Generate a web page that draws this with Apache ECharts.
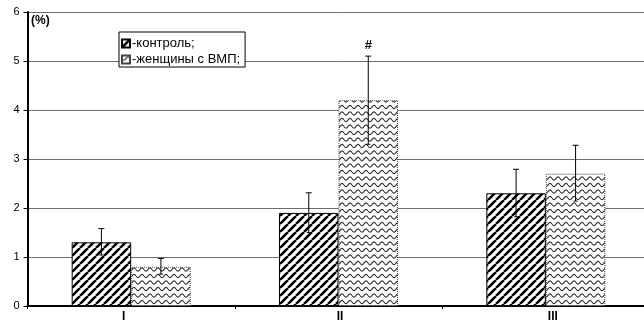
<!DOCTYPE html>
<html><head><meta charset="utf-8">
<script src="https://cdn.jsdelivr.net/npm/echarts@6/dist/echarts.min.js"></script>
<style>html,body{margin:0;padding:0;background:#fff;overflow:hidden;width:644px;height:325px}#c{width:660px;height:325px}</style>
</head><body><div id="c"></div>
<script>
var categories = ['I', 'II', 'III'];
var controlValues = [1.3, 1.9, 2.3];
var controlLow = [1.04, 1.5, 1.82];
var controlHigh = [1.58, 2.31, 2.79];
var womenValues = [0.8, 4.2, 2.7];
var womenLow = [0.65, 3.3, 2.14];
var womenHigh = [0.97, 5.1, 3.28];
var womenMarks = ['', '#', ''];
var yTicks = [0, 1, 2, 3, 4, 5, 6];

function stripePattern() {
  var c = document.createElement('canvas'); c.width = 8; c.height = 8;
  var g = c.getContext('2d');
  g.fillStyle = '#fff'; g.fillRect(0, 0, 8, 8);
  g.strokeStyle = '#000'; g.lineWidth = 2.6;
  [-8, 0, 8].forEach(function (o) {
    g.beginPath(); g.moveTo(o, 8); g.lineTo(o + 8, 0); g.stroke();
  });
  return c;
}
function wavePattern() {
  var c = document.createElement('canvas'); c.width = 8; c.height = 13;
  var g = c.getContext('2d');
  g.fillStyle = '#fff'; g.fillRect(0, 0, 8, 13);
  g.strokeStyle = '#333'; g.lineWidth = 1.2;
  [3, 9.5].forEach(function (y0) {
    g.beginPath();
    for (var x = 0; x <= 8; x += 0.5) {
      var y = y0 + 1.6 * Math.sin(x / 8 * 2 * Math.PI);
      if (x === 0) g.moveTo(x, y); else g.lineTo(x, y);
    }
    g.stroke();
  });
  return c;
}
var stripe = { image: stripePattern(), repeat: 'repeat' };
var wave = { image: wavePattern(), repeat: 'repeat' };

var BAR_W = 59.5;
var LABEL_SHIFT = { 'I': 'l', 'II': 'm', 'III': 'r' };
function errSeries(low, high, marks, side) {
  return {
    type: 'custom', silent: true, z: 10,
    data: categories.map(function (c, i) { return [i, low[i], high[i], marks ? marks[i] : '']; }),
    renderItem: function (params, api) {
      var i = api.value(0);
      var lo = api.coord([i, api.value(1)]);
      var hi = api.coord([i, api.value(2)]);
      var x = lo[0] + side * BAR_W / 2;
      var cap = 3;
      var children = [
        { type: 'line', shape: { x1: x, y1: lo[1], x2: x, y2: hi[1] }, style: { stroke: '#000', lineWidth: 1 } },
        { type: 'line', shape: { x1: x - cap, y1: hi[1], x2: x + cap, y2: hi[1] }, style: { stroke: '#000', lineWidth: 1 } },
        { type: 'line', shape: { x1: x - 2, y1: lo[1], x2: x + 2, y2: lo[1] }, style: { stroke: '#000', lineWidth: 1 } }
      ];
      var m = marks ? marks[i] : '';
      if (m) {
        children.push({ type: 'text', style: { text: m, x: x, y: hi[1] - 4, align: 'center', verticalAlign: 'bottom', font: 'bold 13px "Liberation Sans", Arial, sans-serif', fill: '#000' } });
      }
      return { type: 'group', children: children };
    }
  };
}

var chart = echarts.init(document.getElementById('c'), null, { renderer: 'canvas', width: 660, height: 325 });
chart.setOption({
  animation: false,
  backgroundColor: '#fff',
  textStyle: { fontFamily: '"Liberation Sans", Arial, sans-serif' },
  grid: { left: 27.5, top: 12, width: 622, height: 294, containLabel: false },
  legend: {
    orient: 'vertical', left: 119, top: 32,
    backgroundColor: '#fff', borderColor: '#000', borderWidth: 1,
    padding: [5, 5, 1, 2], itemGap: 3,
    itemWidth: 8, itemHeight: 8, icon: 'rect',
    textStyle: { fontSize: 13, color: '#000', padding: [0, 0, 0, -3] },
    data: ['-контроль;', '-женщины с ВМП;']
  },
  graphic: [{ type: 'text', left: 31, top: 15, style: { text: '(%)', font: 'bold 12px "Liberation Sans", Arial, sans-serif', fill: '#000' } }],
  xAxis: {
    type: 'category', data: categories,
    axisLine: { lineStyle: { color: '#000', width: 2 } },
    axisTick: { show: true, length: 3, inside: false, lineStyle: { color: '#000' } },
    axisLabel: {
      fontSize: 12, fontWeight: 'bold', color: '#000', margin: 5,
      formatter: function (v) { return '{' + LABEL_SHIFT[v] + '|' + v + '}'; },
      rich: {
        l: { fontSize: 12, fontWeight: 'bold', padding: [0, 15, 0, 0] },
        m: { fontSize: 12, fontWeight: 'bold', padding: [0, 0, 0, 3] },
        r: { fontSize: 12, fontWeight: 'bold', padding: [0, 0, 0, 14] }
      }
    },
    splitLine: { show: false }
  },
  yAxis: {
    type: 'value', min: 0, max: 6, interval: 1,
    axisLine: { show: true, lineStyle: { color: '#000', width: 2 } },
    axisTick: { show: true, length: 4, lineStyle: { color: '#000', width: 1 } },
    axisLabel: { fontSize: 11, color: '#000', margin: 8, formatter: function (v) { return yTicks.indexOf(v) >= 0 ? String(v) : ''; } },
    splitLine: { show: true, lineStyle: { color: '#6e6e6e', width: 1 } }
  },
  series: [
    { name: '-контроль;', type: 'bar', data: controlValues, barWidth: BAR_W, barGap: '0%',
      itemStyle: { color: stripe, borderColor: '#000', borderWidth: 1 } },
    { name: '-женщины с ВМП;', type: 'bar', data: womenValues, barWidth: BAR_W, barGap: '0%',
      itemStyle: { color: wave, borderColor: '#444', borderWidth: 1, borderType: 'dotted' } },
    errSeries(controlLow, controlHigh, null, -1),
    errSeries(womenLow, womenHigh, womenMarks, 1)
  ]
});
</script></body></html>
